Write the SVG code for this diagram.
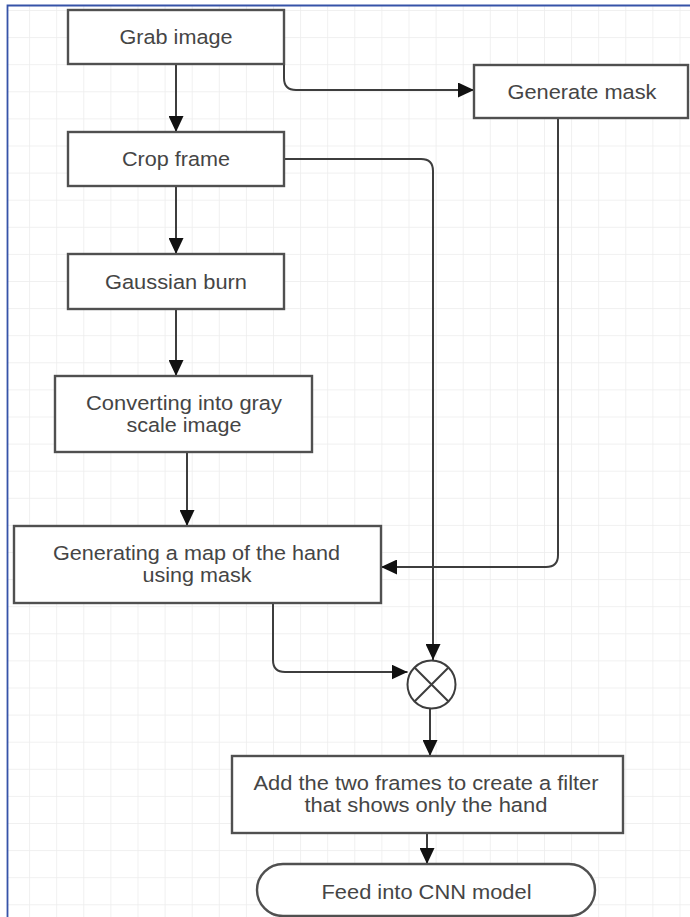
<svg xmlns="http://www.w3.org/2000/svg" width="690" height="917" viewBox="0 0 690 917">
  <style>
    .box { fill: #ffffff; stroke: #505050; stroke-width: 2.4; }
    .lbl { font-family: "Liberation Sans", Arial, sans-serif; font-size: 20.5px; fill: #454545; text-anchor: middle; }
    .conn { fill: none; stroke: #3d3d3d; stroke-width: 2; }
    .sym { fill: #ffffff; stroke: #3d3d3d; stroke-width: 2; }
  </style>
  <defs>
    <pattern id="grid" x="2" y="10" width="27.1" height="27.1" patternUnits="userSpaceOnUse">
      <path d="M0,0 H27.1 M0,0 V27.1" fill="none" stroke="#ececec" stroke-width="1.5"/>
    </pattern>
    <marker id="arr" markerUnits="userSpaceOnUse" markerWidth="17" markerHeight="15" refX="16" refY="7.5" orient="auto">
      <path d="M0,0 L16,7.5 L0,15 Z" fill="#111111"/>
    </marker>
  </defs>

  <rect x="0" y="0" width="690" height="917" fill="#ffffff"/>
  <rect x="8" y="6" width="682" height="911" fill="url(#grid)"/>
  <path d="M7.5,917 V5.5 H690" fill="none" stroke="#3653a8" stroke-width="1.8"/>

  <g id="connectors">
    <path class="conn" d="M176,64 V132" marker-end="url(#arr)"/>
    <path class="conn" d="M284,64 V78 Q284,90 296,90 H474" marker-end="url(#arr)"/>
    <path class="conn" d="M284,159 H421 Q433,159 433,171 V660" marker-end="url(#arr)"/>
    <path class="conn" d="M558,118 V555 Q558,567 546,567 H381" marker-end="url(#arr)"/>
    <path class="conn" d="M176,186 V254" marker-end="url(#arr)"/>
    <path class="conn" d="M176,309 V376" marker-end="url(#arr)"/>
    <path class="conn" d="M187,452 V526" marker-end="url(#arr)"/>
    <path class="conn" d="M273,603 V660 Q273,672 285,672 H407.5" marker-end="url(#arr)"/>
    <path class="conn" d="M430,708 V756" marker-end="url(#arr)"/>
    <path class="conn" d="M427,833 V864" marker-end="url(#arr)"/>
  </g>

  <g id="grab">
    <rect class="box" x="68" y="10" width="216" height="54"/>
    <text class="lbl" x="176" y="43.5" textLength="113" lengthAdjust="spacingAndGlyphs">Grab image</text>
  </g>
  <g id="genmask">
    <rect class="box" x="474" y="65" width="214" height="53"/>
    <text class="lbl" x="582" y="98.5" textLength="149" lengthAdjust="spacingAndGlyphs">Generate mask</text>
  </g>
  <g id="crop">
    <rect class="box" x="68" y="132" width="216" height="54"/>
    <text class="lbl" x="176" y="166" textLength="108" lengthAdjust="spacingAndGlyphs">Crop frame</text>
  </g>
  <g id="gaussian">
    <rect class="box" x="68" y="254" width="216" height="55"/>
    <text class="lbl" x="176" y="288.5" textLength="142" lengthAdjust="spacingAndGlyphs">Gaussian burn</text>
  </g>
  <g id="gray">
    <rect class="box" x="55" y="376" width="257" height="76"/>
    <text class="lbl" x="184" y="410" textLength="196" lengthAdjust="spacingAndGlyphs">Converting into gray</text>
    <text class="lbl" x="184" y="432" textLength="115" lengthAdjust="spacingAndGlyphs">scale image</text>
  </g>
  <g id="handmap">
    <rect class="box" x="14" y="526" width="367" height="77"/>
    <text class="lbl" x="196.5" y="560" textLength="287" lengthAdjust="spacingAndGlyphs">Generating a map of the hand</text>
    <text class="lbl" x="197" y="582" textLength="109" lengthAdjust="spacingAndGlyphs">using mask</text>
  </g>
  <g id="merge">
    <circle class="sym" cx="431.5" cy="684.5" r="24"/>
    <path class="conn" d="M414.5,667.5 L448.5,701.5 M448.5,667.5 L414.5,701.5"/>
  </g>
  <g id="addframes">
    <rect class="box" x="232" y="756" width="391" height="77"/>
    <text class="lbl" x="426" y="790" textLength="345" lengthAdjust="spacingAndGlyphs">Add the two frames to create a filter</text>
    <text class="lbl" x="426" y="812" textLength="243" lengthAdjust="spacingAndGlyphs">that shows only the hand</text>
  </g>
  <g id="cnn">
    <rect class="box" x="257" y="864" width="338" height="52" rx="26" ry="26"/>
    <text class="lbl" x="426.5" y="898.5" textLength="210" lengthAdjust="spacingAndGlyphs">Feed into CNN model</text>
  </g>
</svg>
